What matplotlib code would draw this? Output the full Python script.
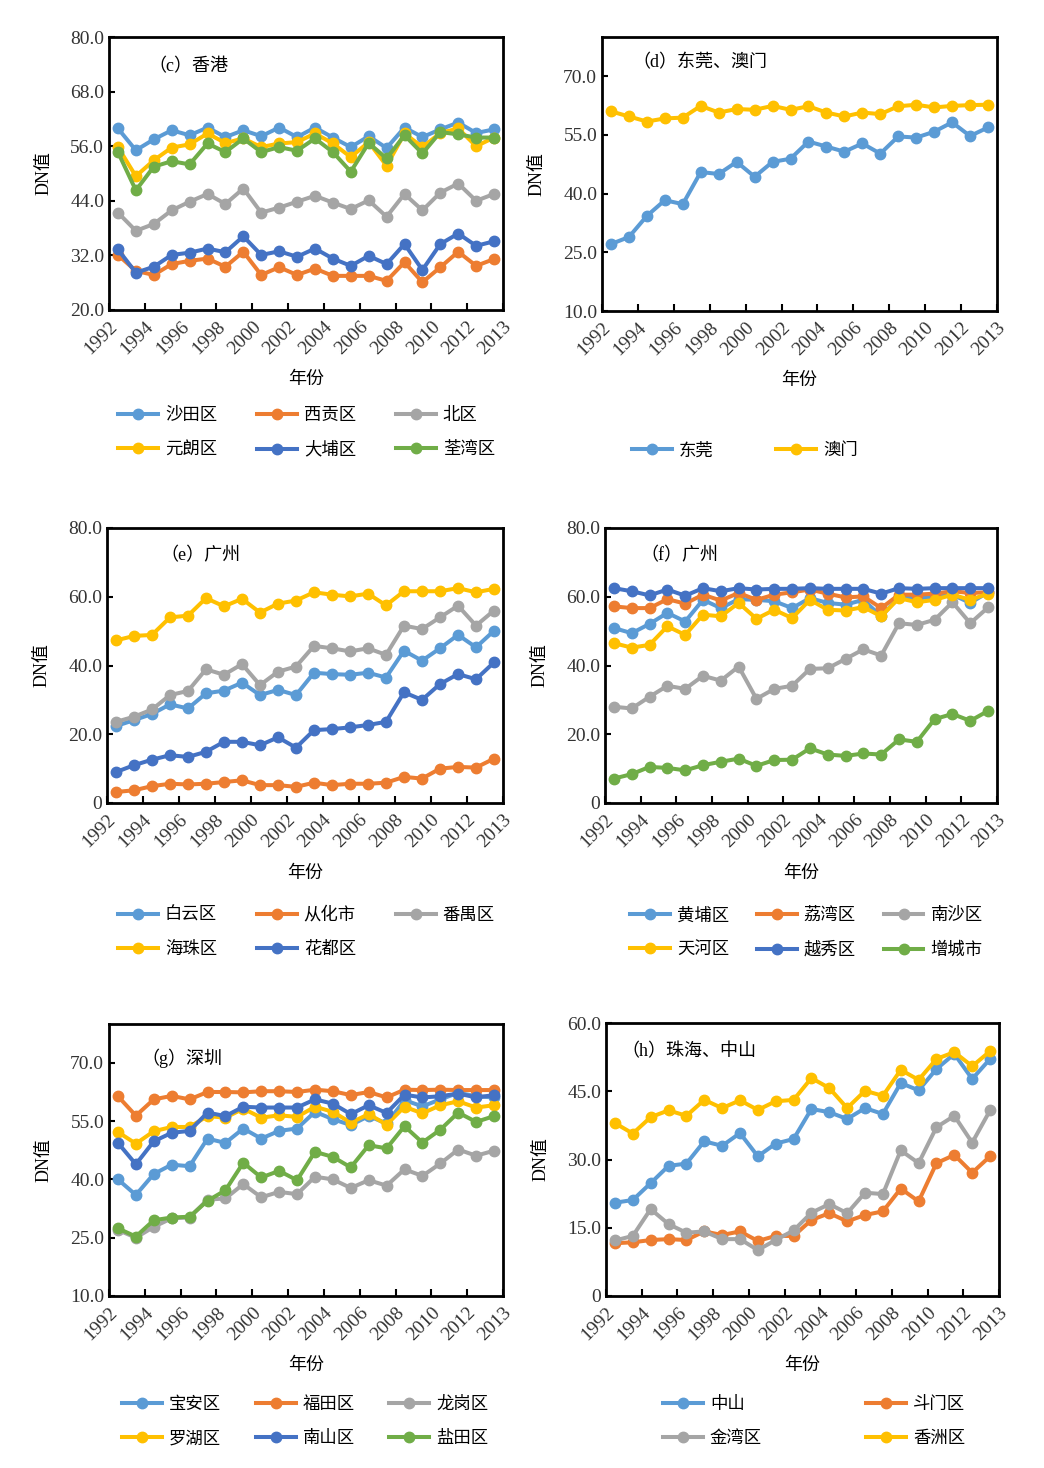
import numpy as np
import matplotlib
matplotlib.use('Agg')
import matplotlib.pyplot as plt
from matplotlib.ticker import FuncFormatter

plt.rcParams['font.family'] = ['Liberation Serif', 'Noto Sans CJK SC', 'DejaVu Sans']
plt.rcParams['xtick.direction'] = 'in'
plt.rcParams['ytick.direction'] = 'in'
plt.rcParams['axes.unicode_minus'] = False

years = list(range(1992, 2014))
tick_years = ['1992', '1994', '1996', '1998', '2000', '2002', '2004',
              '2006', '2008', '2010', '2012', '2013']

BLUE = '#5B9BD5'
ORANGE = '#ED7D31'
GRAY = '#A5A5A5'
GOLD = '#FFC000'
DBLUE = '#4472C4'
GREEN = '#70AD47'

# (c) 香港
hk_names = ['沙田区', '西贡区', '北区', '元朗区', '大埔区', '荃湾区']
hk_shatin = [59.9, 55.1, 57.5, 59.5, 58.4, 60.1, 58.0, 59.5, 58.2, 60.1, 58.0,
             60.1, 57.9, 55.8, 58.2, 55.6, 60.1, 58.0, 59.7, 61.2, 58.9, 59.7]
hk_saikung = [32.1, 28.6, 27.7, 30.1, 30.8, 31.3, 29.5, 32.8, 27.7, 29.4, 27.7,
              29.1, 27.5, 27.5, 27.5, 26.4, 30.5, 26.1, 29.4, 32.8, 29.7, 31.2]
hk_north = [41.4, 37.4, 38.9, 41.9, 43.8, 45.5, 43.3, 46.7, 41.4, 42.5, 43.8,
            45.1, 43.6, 42.2, 44.1, 40.5, 45.5, 41.9, 45.8, 47.8, 44.0, 45.5]
hk_yuenlong = [55.8, 49.4, 52.9, 55.7, 56.4, 58.8, 56.7, 57.7, 55.8, 56.6, 56.9,
               58.8, 56.6, 53.6, 56.9, 51.7, 58.8, 55.8, 58.9, 59.9, 56.0, 57.9]
hk_taipo = [33.3, 28.2, 29.5, 32.1, 32.6, 33.5, 32.7, 36.2, 32.1, 32.9, 31.7,
            33.5, 31.3, 29.7, 31.9, 30.1, 34.5, 28.8, 34.5, 36.8, 34.1, 35.1]
hk_tsuenwan = [54.7, 46.3, 51.5, 52.7, 52.0, 56.6, 54.7, 57.7, 54.7, 55.8, 55.0,
               57.7, 54.7, 50.4, 56.7, 53.3, 58.4, 54.4, 59.1, 58.6, 57.9, 57.9]

# (d) 东莞、澳门
dm_names = ['东莞', '澳门']
dongguan = [27.1, 28.9, 34.3, 38.3, 37.3, 45.5, 45.0, 48.1, 44.3, 48.1, 48.9,
            53.3, 52.0, 50.7, 52.8, 50.2, 54.6, 54.3, 55.8, 58.2, 54.7, 56.9]
macau = [61.0, 59.7, 58.4, 59.2, 59.4, 62.4, 60.7, 61.6, 61.4, 62.4, 61.4,
         62.3, 60.7, 59.7, 60.7, 60.3, 62.3, 62.7, 62.0, 62.4, 62.6, 62.7]

# (e) 广州
gz1_names = ['白云区', '从化市', '番禺区', '海珠区', '花都区']
baiyun = [22.4, 24.1, 25.9, 28.7, 27.5, 31.9, 32.7, 35.0, 31.4, 32.9, 31.4,
          37.9, 37.5, 37.3, 37.9, 36.5, 44.3, 41.4, 45.0, 48.9, 45.3, 50.1]
conghua = [3.2, 3.7, 4.9, 5.6, 5.4, 5.6, 6.1, 6.6, 5.2, 5.2, 4.7,
           5.9, 5.2, 5.6, 5.6, 5.9, 7.6, 7.1, 10.0, 10.5, 10.3, 12.9]
panyu = [23.6, 25.1, 27.2, 31.4, 32.6, 38.9, 37.3, 40.4, 34.3, 38.2, 39.7,
         45.7, 45.0, 44.1, 45.0, 43.1, 51.6, 50.6, 54.0, 57.4, 51.6, 56.0]
haizhu = [47.3, 48.6, 48.9, 54.0, 54.5, 59.6, 57.2, 59.4, 55.4, 58.0, 58.9,
          61.3, 60.6, 60.1, 60.9, 57.5, 61.6, 61.6, 61.6, 62.5, 61.3, 62.3]
huadu = [9.0, 11.0, 12.6, 13.9, 13.4, 14.9, 17.8, 17.8, 16.8, 19.1, 16.1,
         21.2, 21.5, 22.0, 22.7, 23.6, 32.2, 30.0, 34.6, 37.5, 36.0, 40.9]

# (f) 广州
gz2_names = ['黄埔区', '荔湾区', '南沙区', '天河区', '越秀区', '增城市']
huangpu = [50.9, 49.4, 52.1, 55.3, 52.8, 59.1, 56.7, 59.3, 59.1, 58.7, 56.7,
           59.6, 58.2, 57.7, 59.1, 54.3, 59.9, 59.6, 59.9, 60.6, 58.2, 61.3]
liwan = [57.2, 56.7, 56.7, 59.3, 58.0, 60.6, 58.9, 61.1, 59.1, 60.6, 61.3,
         62.1, 60.9, 59.8, 60.1, 56.7, 60.6, 60.6, 60.9, 61.6, 61.1, 61.3]
nansha = [28.0, 27.5, 30.9, 34.1, 33.2, 37.0, 35.6, 39.7, 30.3, 33.2, 34.1,
          39.0, 39.2, 41.9, 44.7, 42.9, 52.3, 51.8, 53.3, 58.4, 52.3, 56.9]
tianhe = [46.5, 45.2, 46.0, 51.4, 48.9, 54.8, 54.3, 58.2, 53.6, 56.2, 53.8,
          59.1, 56.2, 56.0, 57.0, 54.3, 59.6, 58.4, 59.1, 60.6, 59.1, 60.9]
yuexiu = [62.5, 61.6, 60.4, 62.1, 60.3, 62.5, 61.6, 62.5, 62.1, 62.3, 62.3,
          62.5, 62.3, 62.3, 62.3, 60.9, 62.5, 62.3, 62.5, 62.5, 62.5, 62.5]
zengcheng = [7.1, 8.4, 10.5, 10.2, 9.5, 11.0, 12.0, 12.9, 10.8, 12.5, 12.6,
             15.9, 14.1, 13.7, 14.4, 14.1, 18.5, 17.8, 24.4, 25.9, 23.9, 26.8]

# (g) 深圳
sz_names = ['宝安区', '福田区', '龙岗区', '罗湖区', '南山区', '盐田区']
baoan = [40.0, 36.0, 41.4, 43.8, 43.4, 50.5, 49.4, 53.1, 50.5, 52.5, 53.1,
         57.4, 55.5, 54.0, 56.3, 54.4, 60.4, 58.8, 60.6, 62.3, 61.4, 61.1]
futian = [61.4, 56.4, 60.6, 61.5, 60.6, 62.5, 62.5, 62.4, 62.7, 62.7, 62.5,
          63.1, 62.7, 61.7, 62.5, 61.1, 63.1, 63.0, 63.1, 63.0, 63.0, 63.0]
longgang = [27.0, 25.0, 27.8, 30.0, 30.2, 34.8, 35.1, 38.8, 35.4, 36.8, 36.2,
            40.7, 40.0, 37.8, 39.8, 38.4, 42.6, 40.9, 44.1, 47.7, 46.1, 47.4]
luohu = [52.2, 49.2, 52.4, 53.5, 53.5, 56.3, 55.9, 58.2, 55.9, 56.5, 56.1,
         58.7, 57.4, 54.6, 56.8, 54.1, 58.7, 57.0, 59.1, 60.1, 58.5, 59.1]
nanshan = [49.4, 43.9, 49.8, 52.0, 52.5, 57.2, 56.3, 58.7, 58.5, 58.5, 58.5,
           60.6, 59.5, 56.8, 59.1, 57.1, 61.8, 61.1, 61.4, 62.1, 61.1, 61.7]
yantian = [27.4, 25.3, 29.5, 30.2, 30.4, 34.5, 37.2, 44.3, 40.5, 42.2, 39.8,
           47.1, 45.8, 43.1, 48.8, 48.0, 53.7, 49.5, 52.8, 57.2, 54.8, 56.3]

# (h) 珠海、中山
zh_names = ['中山', '斗门区', '金湾区', '香洲区']
zhongshan = [20.5, 21.1, 24.8, 28.6, 29.1, 34.0, 33.0, 35.8, 30.7, 33.5, 34.5,
             41.1, 40.4, 38.9, 41.3, 40.0, 46.8, 45.2, 49.9, 53.2, 47.7, 52.1]
doumen = [11.6, 11.8, 12.3, 12.5, 12.3, 14.2, 13.4, 14.2, 12.1, 13.2, 13.2,
          16.7, 18.2, 16.4, 17.8, 18.6, 23.6, 20.8, 29.2, 31.0, 27.1, 30.7]
jinwan = [12.2, 13.2, 19.1, 15.8, 13.9, 14.2, 12.5, 12.5, 10.1, 12.3, 14.4,
          18.3, 20.2, 18.2, 22.7, 22.4, 32.0, 29.2, 37.1, 39.6, 33.7, 40.8]
xiangzhou = [38.0, 35.7, 39.3, 40.8, 39.6, 43.1, 41.3, 43.0, 40.9, 42.8, 43.1,
             47.9, 45.7, 41.3, 45.1, 44.0, 49.7, 47.5, 52.1, 53.6, 50.5, 53.8]

W, H = 1044, 1468
fig = plt.figure(figsize=(W / 100, H / 100), dpi=100)


def px_axes(left, top, right, bottom):
    return fig.add_axes([left / W, 1 - bottom / H, (right - left) / W, (bottom - top) / H])


def yfmt(v, pos):
    if abs(v) < 1e-9:
        return '0'
    return '%.1f' % v


def panel(box, title, title_xy, names, series, colors, ylim, ystep,
          leg_xy, ncol, colspace, order):
    ax = px_axes(*box)
    x = np.arange(len(years)) + 0.5
    handles = []
    for name, vals, c in zip(names, series, colors):
        h, = ax.plot(x, vals, color=c, lw=2.9, marker='o', ms=7.5,
                     label=name, solid_joinstyle='round')
        handles.append(h)
    ax.set_xlim(0, len(years))
    ax.set_xticks(np.arange(0, len(years) + 1, 2))
    ax.set_xticklabels(tick_years, rotation=45, ha='right',
                       rotation_mode='anchor', fontsize=14, color='#333333')
    ax.set_ylim(*ylim)
    ax.set_yticks(np.arange(ylim[0], ylim[1] + 0.01, ystep))
    ax.yaxis.set_major_formatter(FuncFormatter(yfmt))
    ax.tick_params(axis='y', labelsize=14, labelcolor='#333333', length=4, width=1.5)
    ax.tick_params(axis='x', length=5, width=1.5, pad=6)
    for s in ax.spines.values():
        s.set_linewidth(2)
    ax.set_xlabel('年份', fontsize=13)
    ax.xaxis.label.set_va('center')
    ax.xaxis.set_label_coords(0.5, -0.255)
    ax.set_ylabel('DN值', fontsize=13)
    ax.yaxis.label.set_va('center')
    ax.yaxis.set_label_coords(-0.165, 0.5)
    ax.text(title_xy[0], title_xy[1], title, transform=ax.transAxes,
            fontsize=13, ha='left', va='center')
    hs = [handles[i] for i in order]
    ax.legend(hs, [h.get_label() for h in hs], loc='upper left',
              bbox_to_anchor=(leg_xy[0] / W, 1 - leg_xy[1] / H),
              bbox_transform=fig.transFigure, frameon=False, ncol=ncol,
              fontsize=12.5, handlelength=2.3, handletextpad=0.4,
              columnspacing=colspace, labelspacing=1.03,
              borderpad=0, borderaxespad=0, numpoints=1)
    return ax


panel((109, 37, 503, 310), '（c）香港', (0.1, 0.89), hk_names,
      [hk_shatin, hk_saikung, hk_north, hk_yuenlong, hk_taipo, hk_tsuenwan],
      [BLUE, ORANGE, GRAY, GOLD, DBLUE, GREEN], (20, 80), 12,
      (118, 408), 3, 2.3, [0, 3, 1, 4, 2, 5])

panel((602, 37, 997, 311), '（d）东莞、澳门', (0.076, 0.905), dm_names,
      [dongguan, macau], [BLUE, GOLD], (10, 80), 15,
      (632, 443), 2, 3.6, [0, 1])

panel((107, 528, 503, 803), '（e）广州', (0.134, 0.9), gz1_names,
      [baiyun, conghua, panyu, haizhu, huadu],
      [BLUE, ORANGE, GRAY, GOLD, DBLUE], (0, 80), 20,
      (118, 907), 3, 2.3, [0, 3, 1, 4, 2])

panel((605, 528, 997, 803), '（f）广州', (0.09, 0.9), gz2_names,
      [huangpu, liwan, nansha, tianhe, yuexiu, zengcheng],
      [BLUE, ORANGE, GRAY, GOLD, DBLUE, GREEN], (0, 80), 20,
      (630, 908), 3, 1.6, [0, 3, 1, 4, 2, 5])

panel((109, 1024, 503, 1296), '（g）深圳', (0.083, 0.875), sz_names,
      [baoan, futian, longgang, luohu, nanshan, yantian],
      [BLUE, ORANGE, GRAY, GOLD, DBLUE, GREEN], (10, 80), 15,
      (122, 1397), 3, 2.0, [0, 3, 1, 4, 2, 5])

panel((606, 1023, 999, 1296), '（h）珠海、中山', (0.04, 0.894), zh_names,
      [zhongshan, doumen, jinwan, xiangzhou],
      [BLUE, ORANGE, GRAY, GOLD], (0, 60), 15,
      (663, 1397), 2, 6.0, [0, 2, 1, 3])

fig.savefig('out.png', dpi=100)
